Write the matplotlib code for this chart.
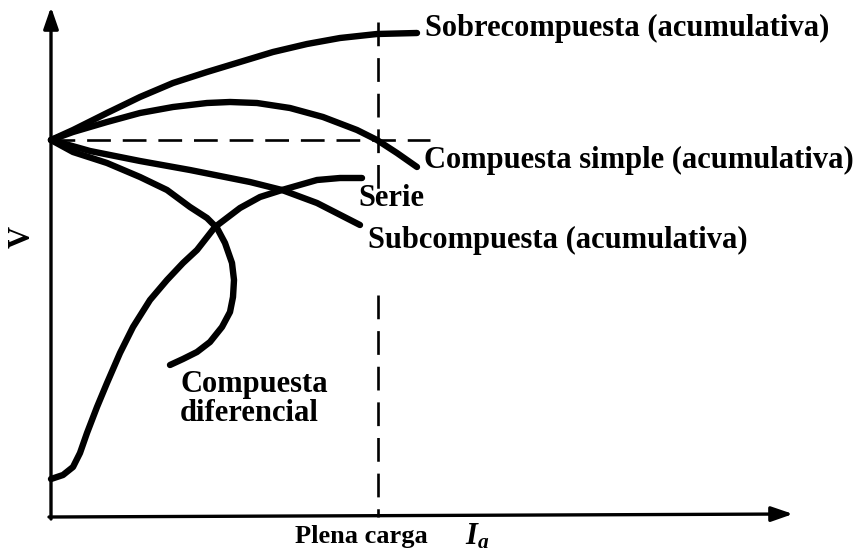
import numpy as np
import matplotlib
matplotlib.use('Agg')
import matplotlib.pyplot as plt

# arbitrary units (no numeric scale in the original)
IA_FULL = 327   # plena carga
V_NL = 377      # tension en vacio

sobre_x = [0, 22, 56, 89, 122, 156, 189, 222, 256, 289, 326, 366]
sobre_v = [377, 387, 404, 420, 434, 445, 455, 465, 473, 479, 483, 484]

simple_x = [0, 22, 56, 89, 122, 156, 179, 206, 239, 272, 306, 326, 346, 366]
simple_v = [377, 385, 395, 404, 410, 414, 415, 414, 409, 400, 387, 377, 364, 350]

sub_x = [0, 39, 89, 139, 199, 231, 266, 309]
sub_v = [377, 366, 356, 347, 335, 327, 314, 292]

serie_x = [0, 12, 22, 29, 36, 46, 56, 69, 82, 99, 116, 132, 146, 164, 189, 209, 231, 266, 289, 311]
serie_v = [38, 42, 50, 64, 84, 110, 134, 164, 190, 217, 237, 254, 267, 290, 309, 320, 327, 337, 339, 339]

dif_x = [0, 22, 56, 89, 116, 139, 156, 166, 174, 181, 183, 182, 179, 171, 159, 146, 132, 119]
dif_v = [377, 365, 354, 340, 327, 310, 299, 289, 274, 254, 237, 220, 205, 190, 175, 165, 158, 152]

curve_labels = ['Sobrecompuesta (acumulativa)', 'Compuesta simple (acumulativa)',
                'Serie', 'Subcompuesta (acumulativa)', 'Compuesta\ndiferencial']

plt.rcParams['font.family'] = ['Liberation Serif']
plt.rcParams['font.weight'] = 'bold'
plt.rcParams['mathtext.fontset'] = 'custom'
plt.rcParams['mathtext.it'] = 'Liberation Serif:italic:bold'
plt.rcParams['mathtext.rm'] = 'Liberation Serif:bold'

fig = plt.figure(figsize=(8.6, 5.52), dpi=100)
ax = fig.add_axes([0, 0, 1, 1])
ax.set_xlim(-51, 809)
ax.set_ylim(-35, 517)
ax.axis('off')

lw = 4.6
for xs, vs in [(sobre_x, sobre_v), (simple_x, simple_v), (sub_x, sub_v),
               (serie_x, serie_v), (dif_x, dif_v)]:
    ax.plot(xs, vs, color='black', lw=lw, solid_capstyle='round', solid_joinstyle='round')

# dashed reference lines
dash = (0, (9, 4.5))
ax.plot([0, 379], [V_NL, V_NL], color='black', lw=1.9, linestyle=dash)
ax.plot([IA_FULL, IA_FULL], [495, 327], color='black', lw=1.9, linestyle=dash)
ax.plot([IA_FULL, IA_FULL], [222, 0], color='black', lw=1.9, linestyle=dash)

# axes with arrows
ax.annotate('', xy=(0, 510), xytext=(0, -2),
            arrowprops=dict(arrowstyle='-|>,head_length=1.3,head_width=0.45',
                            color='black', lw=2.4, shrinkA=0, shrinkB=0))
ax.annotate('', xy=(742, 3), xytext=(-2, 0),
            arrowprops=dict(arrowstyle='-|>,head_length=1.3,head_width=0.45',
                            color='black', lw=2.4, shrinkA=0, shrinkB=0))

fs = 22
ax.text(374, 489, curve_labels[0], fontsize=fs, va='center', ha='left')
ax.text(373, 357, curve_labels[1], fontsize=fs, va='center', ha='left')
ax.text(307, 319, curve_labels[2], fontsize=fs, va='center', ha='left')
ax.text(317, 277, curve_labels[3], fontsize=fs, va='center', ha='left')
ax.text(129, 147, curve_labels[4], fontsize=fs, va='top', ha='left', linespacing=1.0)

ax.text(-29, 280, 'V', fontsize=fs, rotation=90, va='center', ha='center')
ax.text(244, -20, 'Plena carga', fontsize=19, va='center', ha='left')
ax.text(414, -20, r'$I_a$', fontsize=fs, va='center', ha='left')

fig.savefig('out.png', dpi=100, facecolor='white')
